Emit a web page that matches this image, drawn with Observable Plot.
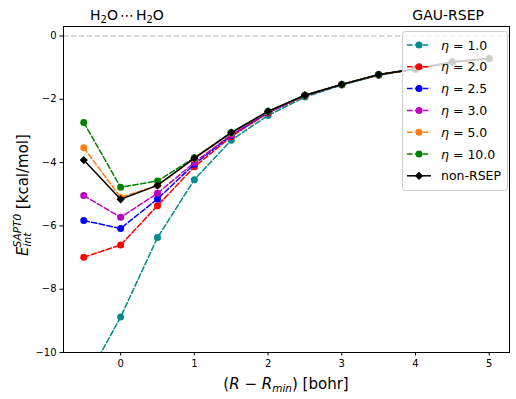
<!DOCTYPE html>
<html>
<head>
<meta charset="utf-8">
<script src="https://cdn.jsdelivr.net/npm/d3@7"></script>
<script src="https://cdn.jsdelivr.net/npm/@observablehq/plot@0.6"></script>
<style>
  html, body { margin: 0; padding: 0; background: white; }
  svg { display: block; }
</style>
</head>
<body>
<div id="chart"></div>
<script>
// ---- data ----
const xValues = [-0.5, 0, 0.5, 1, 1.5, 2, 2.5, 3, 3.5, 4, 4.5, 5];
const eta1  = [-11.0, -8.88, -6.37, -4.54, -3.29, -2.51, -1.93, -1.55, -1.24, -1.05, -0.83, -0.72];
const eta2  = [-6.99, -6.60, -5.36, -4.13, -3.18, -2.43, -1.89, -1.53, -1.23, -1.04, -0.82, -0.71];
const eta25 = [-5.83, -6.08, -5.15, -4.05, -3.14, -2.42, -1.88, -1.53, -1.22, -1.04, -0.82, -0.71];
const eta3  = [-5.04, -5.73, -4.97, -4.00, -3.12, -2.41, -1.88, -1.53, -1.22, -1.04, -0.82, -0.71];
const eta5  = [-3.53, -5.10, -4.72, -3.88, -3.07, -2.39, -1.87, -1.53, -1.22, -1.04, -0.82, -0.71];
const eta10 = [-2.73, -4.78, -4.58, -3.85, -3.05, -2.38, -1.87, -1.53, -1.22, -1.04, -0.82, -0.71];
const nonRSEP = [-3.92, -5.16, -4.72, -3.86, -3.05, -2.38, -1.87, -1.53, -1.22, -1.04, -0.82, -0.71];

const seriesNames = ["η = 1.0", "η = 2.0", "η = 2.5", "η = 3.0", "η = 5.0", "η = 10.0", "non-RSEP"];
const seriesValues = [eta1, eta2, eta25, eta3, eta5, eta10, nonRSEP];
const seriesColors = ["#008b8b", "#ff0000", "#0000ff", "#bf00bf", "#ff7f0e", "#008000", "#000000"];
const seriesDashed = [true, true, true, true, true, true, false];
const seriesSymbols = ["circle", "circle", "circle", "circle", "circle", "circle", "diamond2"];

const xTicks = [0, 1, 2, 3, 4, 5];
const yTicks = [0, -2, -4, -6, -8, -10];
const titleRight = "GAU-RSEP";

// ---- build marks ----
const W = 516, H = 399;
const mL = 63, mR = 7, mT = 26, mB = 47;

const marks = [
  Plot.ruleY([0], {stroke: "#cccccc", strokeWidth: 1.5, strokeDasharray: "5.5,2.4"})
];
seriesNames.forEach((name, i) => {
  const rows = xValues.map((x, j) => ({x, y: seriesValues[i][j]}));
  marks.push(Plot.line(rows, {
    x: "x", y: "y", stroke: seriesColors[i], strokeWidth: 1.5,
    strokeDasharray: seriesDashed[i] ? "5.5,2.4" : null, clip: true
  }));
  marks.push(Plot.dot(rows, {
    x: "x", y: "y", fill: seriesColors[i], stroke: "none",
    symbol: seriesSymbols[i], r: seriesSymbols[i] === "circle" ? 3.5 : 3.7, clip: true
  }));
});
marks.push(Plot.frame({stroke: "black", strokeWidth: 1}));

const chart = Plot.plot({
  width: W, height: H,
  marginLeft: mL, marginRight: mR, marginTop: mT, marginBottom: mB,
  style: {fontFamily: "DejaVu Sans", fontSize: "10px", color: "black", background: "white"},
  x: {domain: [-0.775, 5.275], ticks: xTicks, tickSize: 3.5, tickPadding: 3.5, tickFormat: d3.format("d"), label: null},
  y: {domain: [-10, 0.3], ticks: yTicks, tickSize: 3.5, tickPadding: 3.5, tickFormat: d3.format("d"), label: null},
  marks
});
document.getElementById("chart").appendChild(chart);

// ---- annotations (titles, axis labels, legend) ----
const svg = d3.select(chart);
const ff = "DejaVu Sans";

// titles
const t1 = svg.append("text").attr("x", 90).attr("y", 20).attr("text-anchor", "start")
  .attr("font-family", ff).attr("font-size", 14).attr("font-weight", "normal").attr("fill", "black");
t1.append("tspan").text("H");
t1.append("tspan").attr("font-size", 10).attr("dy", 2.5).text("2");
t1.append("tspan").attr("dy", -2.5).text("O");
t1.append("tspan").attr("dx", 2).text("⋯");
t1.append("tspan").attr("dx", 2).text("H");
t1.append("tspan").attr("font-size", 10).attr("dy", 2.5).text("2");
t1.append("tspan").attr("dy", -2.5).text("O");

svg.append("text").attr("x", 484).attr("y", 20).attr("text-anchor", "end").attr("font-weight", "normal")
  .attr("font-family", ff).attr("font-size", 14).attr("fill", "black").text(titleRight);

// x label
const xl = svg.append("text").attr("x", 286).attr("y", 389).attr("text-anchor", "middle")
  .attr("font-family", ff).attr("font-size", 15).attr("fill", "black");
xl.append("tspan").text("(");
xl.append("tspan").attr("font-style", "italic").text("R");
xl.append("tspan").text(" − ");
xl.append("tspan").attr("font-style", "italic").text("R");
xl.append("tspan").attr("font-style", "italic").attr("font-size", 10.5).attr("dy", 3).text("min");
xl.append("tspan").attr("dy", -3).text(") [bohr]");

// y label
const yl = svg.append("text").attr("transform", "translate(28,195) rotate(-90)").attr("text-anchor", "middle")
  .attr("font-family", ff).attr("font-size", 15).attr("fill", "black");
yl.append("tspan").attr("font-style", "italic").text("E");
yl.append("tspan").attr("font-style", "italic").attr("font-size", 10.5).attr("dy", 3).text("int");
yl.append("tspan").attr("font-style", "italic").attr("font-size", 10.5).attr("dx", -14.5).attr("dy", -10).text("SAPT0");
yl.append("tspan").attr("dy", 7).text(" [kcal/mol]");

// legend
const lg = svg.append("g");
lg.append("rect").attr("x", 402.5).attr("y", 31.5).attr("width", 105).attr("height", 159).attr("rx", 3)
  .attr("fill", "white").attr("fill-opacity", 0.8).attr("stroke", "#cccccc").attr("stroke-width", 1);
const symbolMap = {circle: d3.symbolCircle, diamond2: d3.symbolDiamond2};
seriesNames.forEach((name, i) => {
  const cy = 45 + i * 21.8;
  lg.append("line").attr("x1", 407).attr("x2", 431).attr("y1", cy).attr("y2", cy)
    .attr("stroke", seriesColors[i]).attr("stroke-width", 1.5)
    .attr("stroke-dasharray", seriesDashed[i] ? "5.5,2.4" : null);
  const r = seriesSymbols[i] === "circle" ? 3.5 : 3.7;
  lg.append("path").attr("transform", `translate(419,${cy})`)
    .attr("d", d3.symbol(symbolMap[seriesSymbols[i]], Math.PI * r * r)())
    .attr("fill", seriesColors[i]);
  const tx = lg.append("text").attr("x", 441).attr("y", cy + 4.5).attr("text-anchor", "start")
    .attr("font-family", ff).attr("font-size", 12.5).attr("fill", "black");
  if (name.startsWith("η")) {
    tx.append("tspan").attr("font-style", "italic").text("η");
    tx.append("tspan").attr("dx", 4).text("=");
    tx.append("tspan").attr("dx", 4).text(name.slice(4));
  } else {
    tx.text(name);
  }
});
</script>
</body>
</html>
